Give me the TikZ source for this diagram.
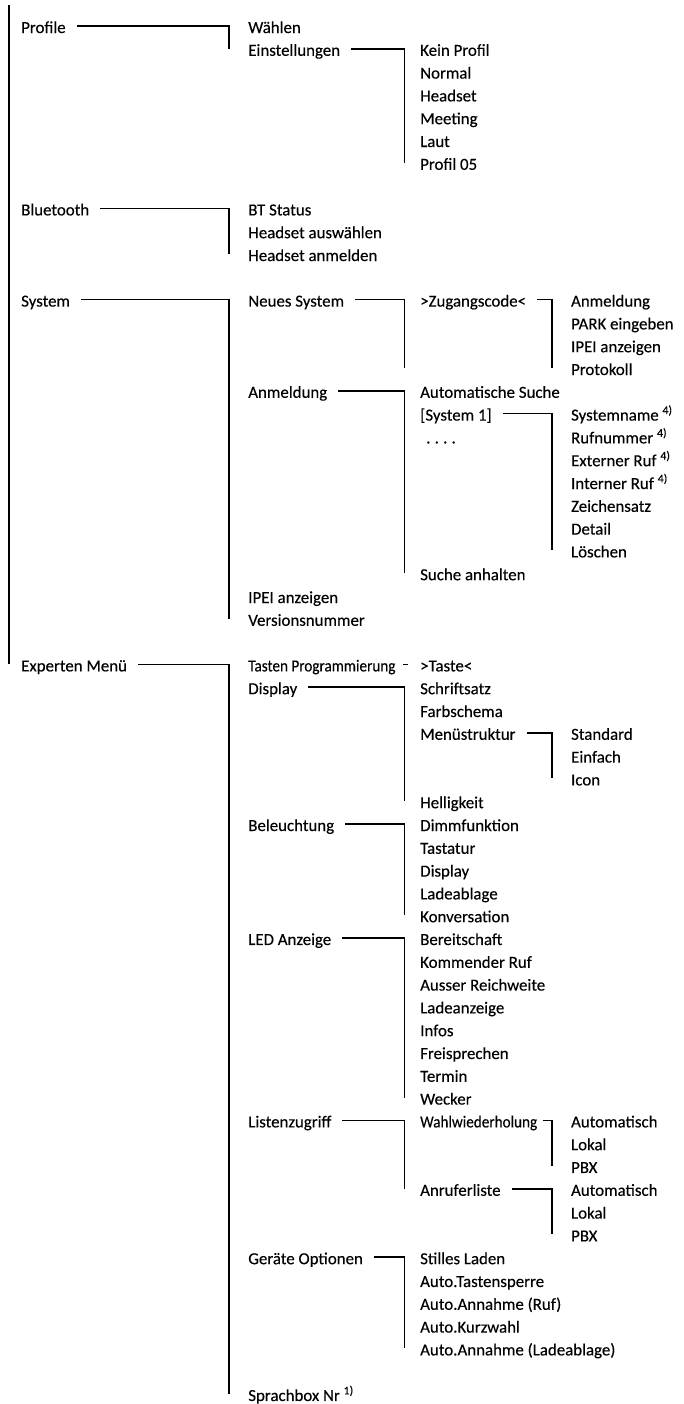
\documentclass[tikz,border=0pt]{standalone}
\usepackage{fontspec}
\setmainfont{Carlito}[FakeBold=0.25]
\newfontfamily\narrowfont{Carlito}[FakeBold=0.25, FakeStretch=0.9]

\begin{document}
\begin{tikzpicture}[y=-0.76cm,
  item/.style={anchor=west, inner xsep=0.15cm, text height=17pt,
    text depth=3.7pt, font=\fontsize{16}{19}\selectfont},
  link/.style={line width=1.6pt, shorten <=6pt}]
  \useasboundingbox (0,-1.14) rectangle (22.8,60.44);

  % x of the vertical bars
  \coordinate (b1) at (7.63,0);
  \coordinate (b2) at (13.48,0);
  \coordinate (b3) at (18.4,0);
  \coordinate (top) at (0.3,-0.92);

  % Profile
  \node[item] (profile) at (0.55,0) {Profile};
  \node[item] (waehlen) at (8.12,0) {Wählen};
  \node[item] (einst) at (8.12,1) {Einstellungen};
  \node[item] (kein) at (13.85,1) {Kein Profil};
  \node[item] (normal) at (13.85,2) {Normal};
  \node[item] (headset) at (13.85,3) {Headset};
  \node[item] (meeting) at (13.85,4) {Meeting};
  \node[item] (laut) at (13.85,5) {Laut};
  \node[item] (profil05) at (13.85,6) {Profil 05};

  % Bluetooth
  \node[item] (bt) at (0.55,8) {Bluetooth};
  \node[item] (btstatus) at (8.12,8) {BT Status};
  \node[item] (hsaus) at (8.12,9) {Headset auswählen};
  \node[item] (hsanm) at (8.12,10) {Headset anmelden};

  % System
  \node[item] (system) at (0.55,12) {System};
  \node[item] (neues) at (8.12,12) {Neues System};
  \node[item] (zugang) at (13.85,12) {>Zugangscode<};
  \node[item] (zanm) at (18.88,12) {Anmeldung};
  \node[item] (park) at (18.88,13) {PARK eingeben};
  \node[item] (ipeiz) at (18.88,14) {IPEI anzeigen};
  \node[item] (protokoll) at (18.88,15) {Protokoll};
  \node[item] (anmeld) at (8.12,16) {Anmeldung};
  \node[item] (autosuche) at (13.85,16) {Automatische Suche};
  \node[item] (sys1) at (13.85,17) {[System 1]};
  \node[item] (dots) at (14.05,18) {.\hspace{4pt}.\hspace{4pt}.\hspace{4pt}.};
  \node[item] (sname) at (18.88,17) {Systemname \textsuperscript{4)}};
  \node[item] (rufnr) at (18.88,18) {Rufnummer \textsuperscript{4)}};
  \node[item] (extruf) at (18.88,19) {Externer Ruf \textsuperscript{4)}};
  \node[item] (intruf) at (18.88,20) {Interner Ruf \textsuperscript{4)}};
  \node[item] (zeichen) at (18.88,21) {Zeichensatz};
  \node[item] (detail) at (18.88,22) {Detail};
  \node[item] (loeschen) at (18.88,23) {Löschen};
  \node[item] (suchean) at (13.85,24) {Suche anhalten};
  \node[item] (ipei) at (8.12,25) {IPEI anzeigen};
  \node[item] (version) at (8.12,26) {Versionsnummer};

  % Experten Menue
  \node[item] (experten) at (0.55,28) {Experten Menü};
  \node[item] (tprog) at (8.12,28) {\narrowfont Tasten Programmierung};
  \node[item] (taste) at (13.85,28) {>Taste<};
  \node[item] (display) at (8.12,29) {Display};
  \node[item] (schrift) at (13.85,29) {Schriftsatz};
  \node[item] (farb) at (13.85,30) {Farbschema};
  \node[item] (menue) at (13.85,31) {Menüstruktur};
  \node[item] (standard) at (18.88,31) {Standard};
  \node[item] (einfach) at (18.88,32) {Einfach};
  \node[item] (icon) at (18.88,33) {Icon};
  \node[item] (hell) at (13.85,34) {Helligkeit};
  \node[item] (beleucht) at (8.12,35) {Beleuchtung};
  \node[item] (dimm) at (13.85,35) {Dimmfunktion};
  \node[item] (tastatur) at (13.85,36) {Tastatur};
  \node[item] (disp2) at (13.85,37) {Display};
  \node[item] (ladeabl) at (13.85,38) {Ladeablage};
  \node[item] (konv) at (13.85,39) {Konversation};
  \node[item] (led) at (8.12,40) {LED Anzeige};
  \node[item] (bereit) at (13.85,40) {Bereitschaft};
  \node[item] (kommend) at (13.85,41) {Kommender Ruf};
  \node[item] (ausser) at (13.85,42) {Ausser Reichweite};
  \node[item] (ladeanz) at (13.85,43) {Ladeanzeige};
  \node[item] (infos) at (13.85,44) {Infos};
  \node[item] (freispr) at (13.85,45) {Freisprechen};
  \node[item] (termin) at (13.85,46) {Termin};
  \node[item] (wecker) at (13.85,47) {Wecker};
  \node[item] (listen) at (8.12,48) {Listenzugriff};
  \node[item] (wahlw) at (13.85,48) {\narrowfont Wahlwiederholung};
  \node[item] (autoa) at (18.88,48) {Automatisch};
  \node[item] (lokala) at (18.88,49) {Lokal};
  \node[item] (pbxa) at (18.88,50) {PBX};
  \node[item] (anrufer) at (13.85,51) {Anruferliste};
  \node[item] (autob) at (18.88,51) {Automatisch};
  \node[item] (lokalb) at (18.88,52) {Lokal};
  \node[item] (pbxb) at (18.88,53) {PBX};
  \node[item] (geraete) at (8.12,54) {Geräte Optionen};
  \node[item] (stilles) at (13.85,54) {Stilles Laden};
  \node[item] (tsperre) at (13.85,55) {Auto.Tastensperre};
  \node[item] (annruf) at (13.85,56) {Auto.Annahme (Ruf)};
  \node[item] (kurzwahl) at (13.85,57) {Auto.Kurzwahl};
  \node[item] (annlade) at (13.85,58) {Auto.Annahme (Ladeablage)};
  \node[item] (sprachbox) at (8.12,60) {Sprachbox Nr \textsuperscript{1)}};

  % main bar on the left
  \draw[line width=1.6pt] (top) -- (top |- experten);

  % branches
  \draw[link] (profile) -| (b1 |- einst);
  \draw[link] (einst) -| (b2 |- profil05);
  \draw[link] (bt) -| (b1 |- hsanm);
  \draw[link] (system) -| (b1 |- version);
  \draw[link] (neues) -| (b2 |- protokoll);
  \draw[link] (zugang) -| (b3 |- protokoll);
  \draw[link] (anmeld) -| (b2 |- suchean);
  \draw[link] (sys1) -| (b3 |- loeschen);
  \draw[link] (experten) -| (b1 |- sprachbox);
  \draw[link, shorten <=3pt, shorten >=7pt] (tprog) -- (taste);
  \draw[link] (display) -| (b2 |- hell);
  \draw[link] (menue) -| (b3 |- icon);
  \draw[link] (beleucht) -| (b2 |- konv);
  \draw[link] (led) -| (b2 |- wecker);
  \draw[link] (listen) -| (b2 |- anrufer);
  \draw[link, shorten <=1pt] (wahlw) -| (b3 |- pbxa);
  \draw[link] (anrufer) -| (b3 |- pbxb);
  \draw[link] (geraete) -| (b2 |- annlade);
\end{tikzpicture}
\end{document}
